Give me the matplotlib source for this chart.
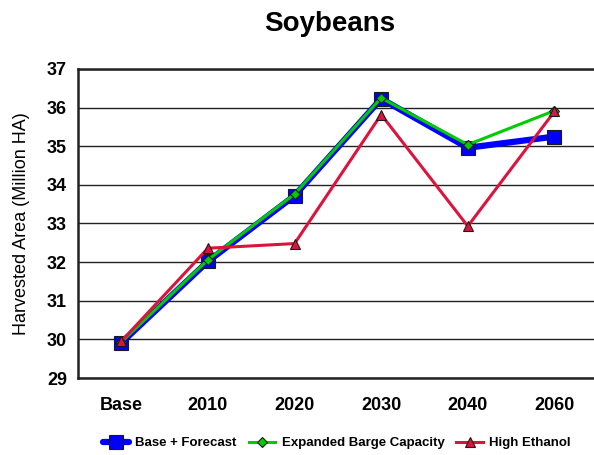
import matplotlib
matplotlib.use("Agg")
import matplotlib.pyplot as plt

categories = ["Base", "2010", "2020", "2030", "2040", "2060"]
base_forecast = [29.91, 32.02, 33.72, 36.23, 34.96, 35.25]
expanded_barge = [29.93, 32.06, 33.76, 36.25, 35.04, 35.92]
high_ethanol = [29.95, 32.36, 32.48, 35.82, 32.93, 35.90]

plt.rcParams["font.family"] = ["Liberation Sans", "DejaVu Sans"]

fig = plt.figure(figsize=(5.94, 4.55), dpi=100)
ax = fig.add_axes([0.1313, 0.1692, 0.875, 0.6792])

x = range(len(categories))
ax.plot(x, base_forecast, color="#0000FF", lw=4.5, marker="s", ms=10,
        mfc="#0000FF", mec="#1a1a1a", mew=0.8, label="Base + Forecast", zorder=3,
        solid_capstyle="round")
ax.plot(x, expanded_barge, color="#00CC00", lw=2.2, marker="D", ms=5.5,
        mfc="#00CC00", mec="#1a1a1a", mew=0.8, label="Expanded Barge Capacity", zorder=4)
ax.plot(x, high_ethanol, color="#DC143C", lw=2.2, marker="^", ms=7,
        mfc="#DC143C", mec="#1a1a1a", mew=0.8, label="High Ethanol", zorder=5)

ax.set_xlim(-0.5, len(categories) - 0.5)
ax.set_ylim(29, 37)
ax.set_yticks(range(29, 38))
ax.set_xticks(list(x))
ax.set_xticklabels(categories)
ax.tick_params(length=0, labelsize=13, pad=8)
for lbl in ax.get_xticklabels() + ax.get_yticklabels():
    lbl.set_fontweight("bold")
ax.tick_params(axis="x", pad=14)

ax.grid(axis="y", color="#222222", lw=1, zorder=0)
for side in ["left", "bottom", "top"]:
    ax.spines[side].set_linewidth(1.8)
    ax.spines[side].set_color("#222222")
ax.spines["right"].set_visible(False)

ax.set_ylabel("Harvested Area (Million HA)", fontsize=13, labelpad=12)
fig.suptitle("Soybeans", fontsize=20, fontweight="bold", x=0.555, y=0.975)

fig.legend(loc="center", bbox_to_anchor=(0.567, 0.026), ncol=3, frameon=False,
           prop={"weight": "bold", "size": 9.5}, handlelength=2.0,
           handletextpad=0.5, columnspacing=0.9)

fig.savefig("out.png", dpi=100)
